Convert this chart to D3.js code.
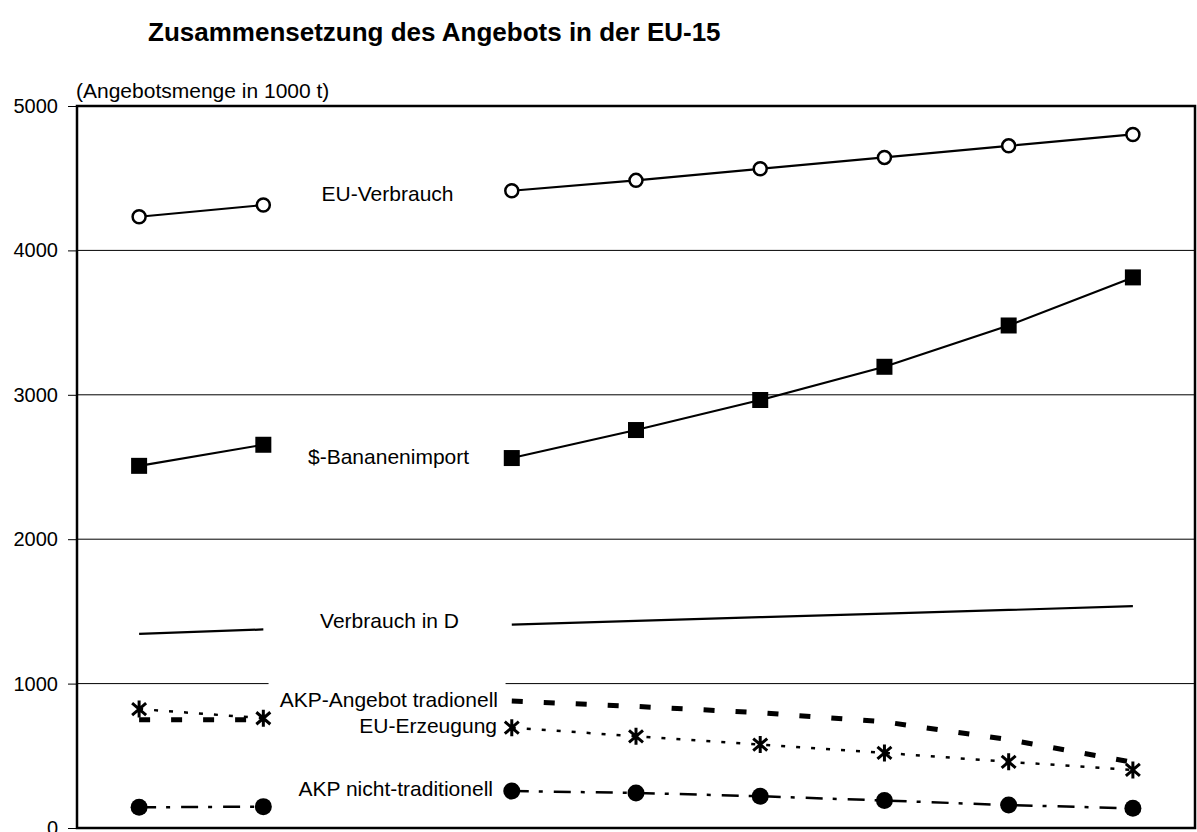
<!DOCTYPE html>
<html>
<head>
<meta charset="utf-8">
<script src="https://cdn.jsdelivr.net/npm/d3@7"></script>
<style>
  html, body { margin: 0; padding: 0; background: #fff; }
  svg { display: block; font-family: "Liberation Sans", Arial, sans-serif; }
</style>
</head>
<body>
<svg id="chart" width="1197" height="832"></svg>
<script>
// ---- data ----
// nine category slots; slot index 2 holds the series labels (no data there)
const categories = ["p1", "p2", "labels", "p3", "p4", "p5", "p6", "p7", "p8"];
const euVerbrauch   = [4233, 4314, null, 4413, 4485, 4565, 4644, 4724, 4803];
const dollarImport  = [2508, 2654, null, 2562, 2756, 2964, 3194, 3480, 3813];
const verbrauchD    = [1345, 1375, null, 1408, 1435, 1460, 1485, 1510, 1537];
const akpTrad       = [750, 750, null, 879, 842, 798, 735, 612, 455];
const euErzeugung   = [824, 760, null, 695, 635, 578, 520, 458, 402];
const akpNichtTrad  = [143, 148, null, 256, 243, 220, 190, 159, 136];
const yTicks = [0, 1000, 2000, 3000, 4000, 5000];
const seriesNames = ["EU-Verbrauch", "$-Bananenimport", "Verbrauch in D",
                     "AKP-Angebot tradionell", "EU-Erzeugung", "AKP nicht-traditionell"];
const titleText = "Zusammensetzung des Angebots in der EU-15";
const yTitleText = "(Angebotsmenge in 1000 t)";

(function () {
// ---- layout ----
const svg = d3.select("#chart");
const mLeft = 77, mRight = 1195, mTop = 106, mBottom = 828;
const x = d3.scaleBand().domain(categories).range([mLeft, mRight]);
const y = d3.scaleLinear().domain([0, 5000]).range([mBottom, mTop]);
const cx = c => x(c) + x.bandwidth() / 2;

// title
svg.append("text").attr("x", 148).attr("y", 41)
  .attr("font-size", 26).attr("font-weight", "bold").text(titleText);
svg.append("text").attr("x", 76).attr("y", 98)
  .attr("font-size", 21).text(yTitleText);

// gridlines
svg.append("g").selectAll("line").data(yTicks.filter(t => t > 0 && t < 5000))
  .join("line")
  .attr("x1", mLeft).attr("x2", mRight)
  .attr("y1", d => y(d)).attr("y2", d => y(d))
  .attr("stroke", "#000").attr("stroke-width", 1);

// y axis
const yAxis = d3.axisLeft(y).tickValues(yTicks).tickSize(9).tickPadding(10)
  .tickFormat(d3.format("d"));
const ga = svg.append("g").attr("transform", `translate(${mLeft},0)`).call(yAxis);
ga.select(".domain").remove();
ga.selectAll("text").attr("font-size", 20).attr("font-family", "Liberation Sans, Arial, sans-serif").attr("fill", "#000");
ga.selectAll("line").attr("stroke", "#000");

// frame
svg.append("rect").attr("x", mLeft).attr("y", mTop)
  .attr("width", mRight - mLeft).attr("height", mBottom - mTop)
  .attr("fill", "none").attr("stroke", "#000").attr("stroke-width", 2.5);

// label backgrounds (they hide the 1000 gridline)
svg.append("rect").attr("x", cx("labels") - 119).attr("y", y(1000) - 4)
  .attr("width", 237).attr("height", 8).attr("fill", "#fff");

// lines
const line = d3.line().defined(d => d.v != null).x(d => cx(d.c)).y(d => y(d.v));
function series(vals) { return categories.map((c, i) => ({ c, v: vals[i] })); }

function drawLine(vals, width, dash) {
  svg.append("path").datum(series(vals)).attr("d", line)
    .attr("fill", "none").attr("stroke", "#000").attr("stroke-width", width)
    .attr("stroke-dasharray", dash || null);
}
drawLine(euVerbrauch, 2.2);
drawLine(dollarImport, 2.2);
drawLine(verbrauchD, 2.2);
drawLine(akpTrad, 5, "11,21");
drawLine(euErzeugung, 2.5, "4,11");
drawLine(akpNichtTrad, 2.5, "17,10,4,11");

const pts = vals => series(vals).filter(d => d.v != null);

// markers
svg.append("g").selectAll("circle").data(pts(euVerbrauch)).join("circle")
  .attr("cx", d => cx(d.c)).attr("cy", d => y(d.v)).attr("r", 6.5)
  .attr("fill", "#fff").attr("stroke", "#000").attr("stroke-width", 2.5);
svg.append("g").selectAll("rect").data(pts(dollarImport)).join("rect")
  .attr("x", d => cx(d.c) - 8).attr("y", d => y(d.v) - 8)
  .attr("width", 16).attr("height", 16).attr("fill", "#000");
svg.append("g").selectAll("circle").data(pts(akpNichtTrad)).join("circle")
  .attr("cx", d => cx(d.c)).attr("cy", d => y(d.v)).attr("r", 8.5)
  .attr("fill", "#000");
const star = svg.append("g").selectAll("g").data(pts(euErzeugung)).join("g")
  .attr("transform", d => `translate(${cx(d.c)},${y(d.v)})`);
star.append("path").attr("d", "M-7,-6L7,6M-7,6L7,-6M0,-8.5L0,8.5")
  .attr("stroke", "#000").attr("stroke-width", 3).attr("fill", "none");

// series labels
const lab = (txt, xx, yy, anchor) => svg.append("text").attr("x", xx).attr("y", yy)
  .attr("font-size", 21).attr("text-anchor", anchor).attr("dominant-baseline", "middle").text(txt);
const lx = cx("labels");
lab(seriesNames[0], lx, 195, "middle");
lab(seriesNames[1], lx + 1, 458, "middle");
lab(seriesNames[2], lx + 2, 622, "middle");
lab(seriesNames[3], 498, 701, "end");
lab(seriesNames[4], 497, 727, "end");
lab(seriesNames[5], 493, 790, "end");
})();
</script>
</body>
</html>
